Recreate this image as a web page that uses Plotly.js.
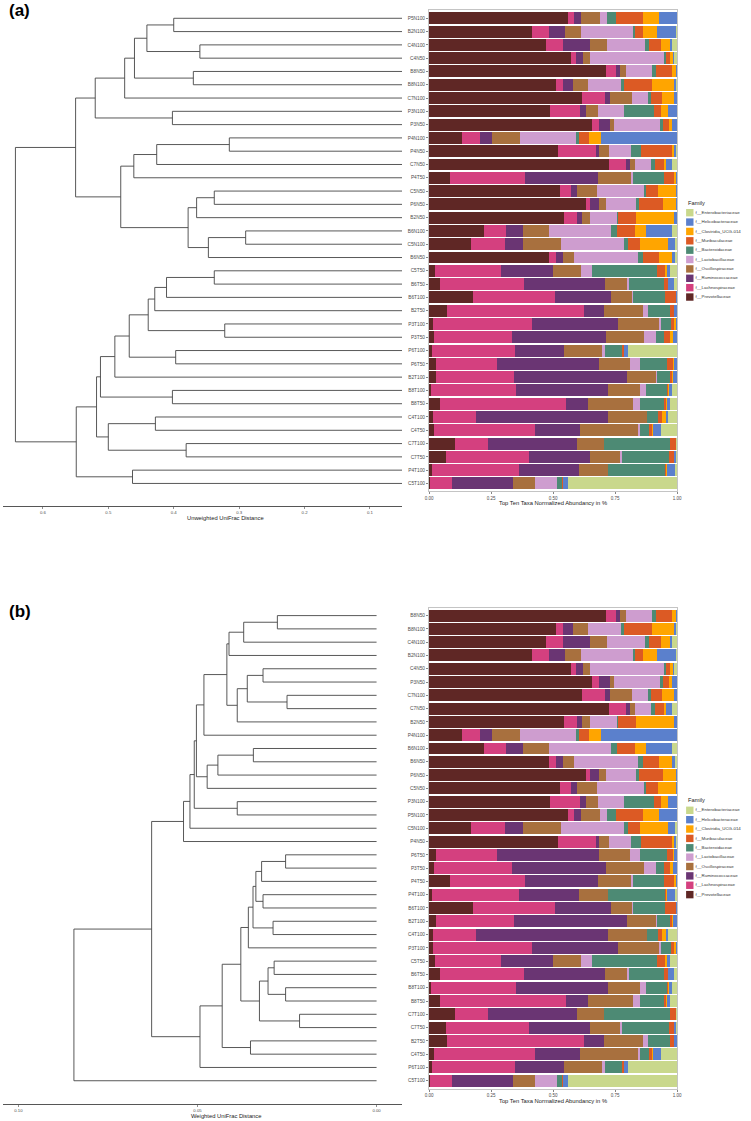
<!DOCTYPE html>
<html>
<head>
<meta charset="utf-8">
<script src="https://cdn.plot.ly/plotly-3.0.1.min.js"></script>
<style>html,body{margin:0;padding:0;background:#fff}#chart{width:751px;height:1121px}</style>
</head>
<body>
<div id="chart"></div>
<script>
// ---------------- DATA ----------------
const samples = ["P5N100","B2N100","C4N100","C4N50","B8N50","B8N100","C7N100","P3N100","P3N50","P4N100","P4N50","C7N50","P4T50","C5N50","P6N50","B2N50","B6N100","C5N100","B6N50","C5T50","B6T50","B6T100","B2T50","P3T100","P3T50","P6T100","P6T50","B2T100","B8T100","B8T50","C4T100","C4T50","C7T100","C7T50","P4T100","C5T100"];

// relative abundance per family, in the order of `samples`
const prevotellaceae    = [.559,.415,.470,.573,.714,.511,.617,.488,.658,.135,.522,.725,.084,.528,.633,.544,.221,.171,.485,.026,.043,.178,.071,.016,.019,.011,.028,.028,.008,.043,.018,.019,.106,.070,.011,.005];
const lachnospiraceae   = [.025,.067,.070,.021,.041,.031,.091,.121,.029,.069,.151,.069,.303,.045,.017,.053,.089,.135,.026,.265,.340,.331,.554,.399,.315,.335,.247,.316,.342,.510,.172,.408,.131,.334,.350,.089];
const ruminococcaceae   = [.028,.067,.108,.026,.017,.040,.021,.023,.042,.051,.014,.017,.296,.024,.036,.020,.069,.074,.028,.209,.325,.226,.081,.348,.378,.197,.410,.455,.372,.087,.532,.182,.360,.246,.244,.246];
const oscillospiraceae  = [.079,.064,.068,.031,.023,.058,.088,.051,.018,.112,.039,.021,.132,.082,.027,.034,.105,.154,.046,.112,.091,.084,.158,.166,.155,.156,.124,.116,.128,.182,.157,.233,.107,.120,.115,.086];
const lactobacillaceae  = [.027,.210,.155,.298,.105,.135,.067,.105,.186,.226,.089,.064,.008,.188,.120,.109,.249,.253,.259,.044,.007,.003,.020,.005,.048,.010,.041,.004,.026,.028,.002,.010,.001,.008,.002,.092];
const bacteroidaceae    = [.037,.009,.016,.005,.015,.013,.011,.119,.012,.013,.041,.016,.126,.009,.015,.004,.026,.014,.020,.264,.140,.131,.086,.042,.031,.071,.110,.053,.082,.096,.042,.037,.267,.190,.228,.017];
const muribaculaceae    = [.108,.032,.050,.019,.065,.111,.046,.030,.024,.040,.125,.037,.040,.049,.097,.070,.073,.049,.063,.033,.016,.042,.017,.012,.027,.006,.025,.008,.004,.011,.018,.011,.023,.019,.004,.004];
const clostridiaUCG014  = [.066,.056,.036,.011,.016,.090,.048,.025,.012,.048,.007,.005,.006,.071,.051,.154,.044,.114,.054,.005,.003,.002,.002,.007,.012,.002,.003,.005,.007,.004,.013,.004,.002,.002,.007,.003];
const helicobacteraceae = [.071,.076,.007,.005,.004,.008,.011,.038,.019,.306,.009,.026,.005,.004,.004,.012,.104,.029,.010,.014,.024,.003,.011,.005,.015,.014,.012,.015,.011,.009,.011,.033,0,.008,.032,.019];
const enterobacteriaceae= [0,.004,.020,.011,0,.003,0,0,0,0,.003,.020,0,0,0,0,.020,.007,.009,.028,.011,0,0,0,0,.198,0,0,.020,.030,.035,.063,.003,.003,.007,.439];

const familyNames = ["f__Prevotellaceae","f__Lachnospiraceae","f__Ruminococcaceae","f__Oscillospiraceae","f__Lactobacillaceae","f__Bacteroidaceae","f__Muribaculaceae","f__Clostridia_UCG-014","f__Helicobacteraceae","f__Enterobacteriaceae"];
const familyValues = [prevotellaceae,lachnospiraceae,ruminococcaceae,oscillospiraceae,lactobacillaceae,bacteroidaceae,muribaculaceae,clostridiaUCG014,helicobacteraceae,enterobacteriaceae];
const familyColors = ["#5F2725","#D4407F","#6A3573","#A8703E","#CE9DCF","#4D8A74","#DC5A24","#FFA500","#5B80CC","#C9D88C"];

// sample order (top to bottom) in each panel
const orderA = samples;
const orderB = ["B8N50","B8N100","C4N100","B2N100","C4N50","P3N50","C7N100","C7N50","B2N50","P4N100","B6N100","B6N50","P6N50","C5N50","P3N100","P5N100","C5N100","P4N50","P6T50","P3T50","P4T50","P4T100","B6T100","B2T100","C4T100","P3T100","C5T50","B6T50","B8T100","B8T50","C7T100","C7T50","B2T50","C4T50","P6T100","C5T100"];

// hierarchical clustering: merges (negative = leaf at that row, positive = earlier merge) and heights
const mergeA = [[-1,-2],[-3,-4],[1,2],[-5,-6],[3,4],[5,-7],[-8,-9],[6,7],[-10,-11],[9,-12],[10,-13],[-14,-15],[12,-16],[-17,-18],[14,-19],[13,15],[11,16],[8,17],[-20,-21],[19,-22],[20,-23],[-24,-25],[21,22],[-26,-27],[23,24],[25,-28],[-29,-30],[26,27],[-31,-32],[-33,-34],[29,30],[28,31],[-35,-36],[32,33],[18,34]];
const heightA = [0.400,0.360,0.441,0.370,0.460,0.475,0.402,0.520,0.315,0.426,0.461,0.338,0.365,0.290,0.347,0.378,0.481,0.550,0.338,0.411,0.429,0.322,0.439,0.397,0.468,0.490,0.402,0.512,0.428,0.381,0.500,0.518,0.463,0.549,0.642];
const mergeB = [[-1,-2],[1,-3],[2,-4],[-5,-6],[-7,-8],[4,5],[6,-9],[3,7],[8,-10],[-11,-12],[10,-13],[11,-14],[9,12],[-15,-16],[13,14],[15,-17],[16,-18],[-19,-20],[18,-21],[-22,-23],[19,20],[-24,-25],[21,22],[23,-26],[-27,-28],[-29,-30],[25,26],[-31,-32],[27,28],[24,29],[-33,-34],[30,31],[32,-35],[17,33],[34,-36]];
const heightB = [0.0277,0.0371,0.0412,0.0317,0.0250,0.0361,0.0389,0.0418,0.0482,0.0344,0.0443,0.0473,0.0503,0.0389,0.0509,0.0521,0.0539,0.0254,0.0321,0.0317,0.0337,0.0289,0.0345,0.0358,0.0286,0.0254,0.0303,0.0215,0.0327,0.0379,0.0352,0.0431,0.0493,0.0628,0.0845];

const barTicks = [0,0.25,0.5,0.75,1];
const barTickText = ["0.00","0.25","0.50","0.75","1.00"];
const dendTicksA = [0.6,0.5,0.4,0.3,0.2,0.1];
const dendTickTextA = ["0.6","0.5","0.4","0.3","0.2","0.1"];
const dendTicksB = [0.10,0.05,0.00];
const dendTickTextB = ["0.10","0.05","0.00"];

// ---------------- LAYOUT HELPERS ----------------
const W = 751, H = 1121;
const FONT = "Liberation Sans, Arial, sans-serif";
const px = v => v / W;
const py = v => 1 - v / H;
const rowPx = 13.29, pad = 0.6, nRows = 36;
function yDomain(firstCenter){
  const top = firstCenter - pad*rowPx;
  const bottom = top + (nRows-1+2*pad)*rowPx;
  return [py(bottom), py(top)];
}
const panels = [
  {tag:"a", first:18.3, order:orderA, merge:mergeA, height:heightA, dRange:[0.661,0.051], dTicks:dendTicksA, dText:dendTickTextA,
   dAxisY:505.7, barTitleY:503.3, dTitleY:518, dTitle:"Unweighted UniFrac Distance", labelY:11, legendTop:202.7},
  {tag:"b", first:615.6, order:orderB, merge:mergeB, height:heightB, dRange:[0.1043,-0.0071], dTicks:dendTicksB, dText:dendTickTextB,
   dAxisY:1104.3, barTitleY:1100.5, dTitleY:1115.5, dTitle:"Weighted UniFrac Distance", labelY:611, legendTop:800.3}
];

function dendroXY(merge, heights){
  const nodeY = [], xs = [], ys = [];
  const pos = c => c < 0 ? [-c-1, 0] : [nodeY[c-1], heights[c-1]];
  merge.forEach((m, j) => {
    const h = heights[j];
    const [yl, hl] = pos(m[0]);
    const [yr, hr] = pos(m[1]);
    xs.push(hl, h, h, hr, null);
    ys.push(yl, yl, yr, yr, null);
    nodeY[j] = (yl + yr) / 2;
  });
  return {xs, ys};
}

const traces = [];
const layout = {
  width: W, height: H, autosize: false,
  margin: {l:0, r:0, t:0, b:0, pad:0},
  paper_bgcolor: "#ffffff", plot_bgcolor: "rgba(0,0,0,0)",
  showlegend: false, barmode: "stack", bargap: 0.1,
  font: {family: FONT, color: "#333"},
  annotations: []
};

panels.forEach((p, k) => {
  const bx = k === 0 ? "x" : "x3", by = k === 0 ? "y" : "y3";
  const dx = k === 0 ? "x2" : "x4", dy = k === 0 ? "y2" : "y4";
  const bxName = k === 0 ? "xaxis" : "xaxis3", byName = k === 0 ? "yaxis" : "yaxis3";
  const dxName = k === 0 ? "xaxis2" : "xaxis4", dyName = k === 0 ? "yaxis2" : "yaxis4";
  const rows = p.order.map((_, i) => i);
  const dom = yDomain(p.first);
  const yr = [nRows - 1 + pad, -pad];

  familyNames.forEach((f, fi) => {
    traces.push({
      type: "bar", orientation: "h", xaxis: bx, yaxis: by,
      y: rows, x: p.order.map(s => familyValues[fi][samples.indexOf(s)]),
      name: f, marker: {color: familyColors[fi], line: {width: 0}},
      hoverinfo: "name+x", showlegend: false
    });
  });

  const d = dendroXY(p.merge, p.height);
  traces.push({type: "scatter", mode: "lines", xaxis: dx, yaxis: dy, x: d.xs, y: d.ys,
    line: {color: "#454545", width: 0.9}, hoverinfo: "skip", showlegend: false});

  layout[bxName] = {domain: [px(429), px(677)], anchor: by, range: [0, 1],
    tickvals: barTicks, ticktext: barTickText, ticks: "outside", ticklen: 2, tickwidth: 0.6, tickcolor: "#333",
    tickfont: {size: 4.5, color: "#4d4d4d", family: FONT},
    showline: true, mirror: true, linecolor: "#c4c4c4", linewidth: 1, showgrid: false, zeroline: false, fixedrange: true};
  layout[byName] = {domain: dom, anchor: bx, range: yr,
    tickvals: rows, ticktext: p.order, ticks: "outside", ticklen: 2, tickwidth: 0.6, tickcolor: "#333",
    tickfont: {size: 4.8, color: "#4d4d4d", family: FONT},
    showline: true, mirror: true, linecolor: "#c4c4c4", linewidth: 1, showgrid: false, zeroline: false, fixedrange: true};
  layout[dxName] = {domain: [px(3), px(402)], anchor: "free", position: py(p.dAxisY), range: p.dRange,
    tickvals: p.dTicks, ticktext: p.dText, ticks: "outside", ticklen: 2, tickwidth: 0.6, tickcolor: "#444",
    tickfont: {size: 4.3, color: "#4d4d4d", family: FONT},
    showline: true, linecolor: "#444", linewidth: 0.9, showgrid: false, zeroline: false, fixedrange: true};
  layout[dyName] = {domain: dom, anchor: dx, range: yr, visible: false, fixedrange: true};

  layout.annotations.push(
    {text: "<b>(" + p.tag + ")</b>", xref: "paper", yref: "paper", x: px(7), y: py(p.labelY), xanchor: "left", yanchor: "middle",
     showarrow: false, font: {size: 17, color: "#000", family: FONT}},
    {text: "Top Ten Taxa Normalized Abundancy in %", xref: "paper", yref: "paper", x: px(553), y: py(p.barTitleY),
     xanchor: "center", yanchor: "middle", showarrow: false, font: {size: 5.8, color: "#1a1a1a", family: FONT}},
    {text: p.dTitle, xref: "paper", yref: "paper", x: px(226), y: py(p.dTitleY),
     xanchor: "center", yanchor: "middle", showarrow: false, font: {size: 5.8, color: "#1a1a1a", family: FONT}},
    {text: "Family", xref: "paper", yref: "paper", x: px(686), y: py(p.legendTop),
     xanchor: "left", yanchor: "middle", showarrow: false, font: {size: 5.7, color: "#1a1a1a", family: FONT}}
  );

  // legend (drawn with markers + text on an overlay axis in pixel units)
  const legOrder = familyNames.map((_, i) => familyNames.length - 1 - i);
  traces.push({type: "scatter", mode: "markers+text", xaxis: "x5", yaxis: "y5",
    x: legOrder.map(() => 689.8),
    y: legOrder.map((_, j) => p.legendTop + 10 + j * 9.37),
    text: legOrder.map(i => familyNames[i]),
    textposition: "middle right", textfont: {size: 4.4, color: "#333", family: FONT},
    marker: {symbol: "square", size: 7.4, color: legOrder.map(i => familyColors[i]), line: {width: 0}},
    hoverinfo: "skip", showlegend: false, cliponaxis: false});
});

layout.xaxis5 = {domain: [0, 1], range: [0, W], visible: false, fixedrange: true, anchor: "y5"};
layout.yaxis5 = {domain: [0, 1], range: [H, 0], visible: false, fixedrange: true, anchor: "x5"};

Plotly.newPlot("chart", traces, layout, {staticPlot: true, displayModeBar: false});
</script>
</body>
</html>
